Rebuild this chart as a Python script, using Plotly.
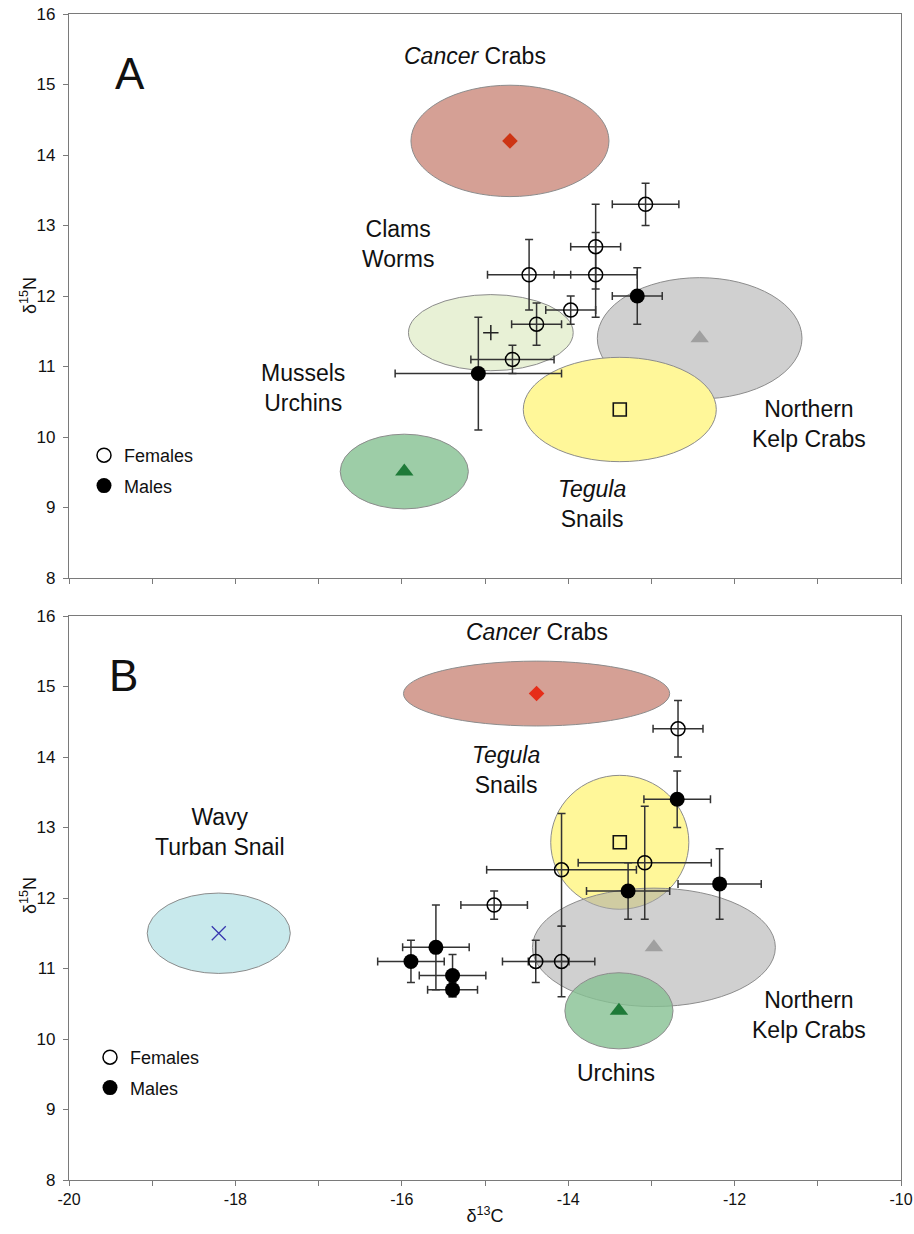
import plotly.graph_objects as go

# ---------------- data ----------------
# Panel A: crab isotope means (± SD), by sex
fa_x = [-13.07, -13.67, -13.67, -14.47, -13.97, -14.38, -14.67]
fa_y = [13.3, 12.7, 12.3, 12.3, 11.8, 11.6, 11.1]
fa_xerr = [0.4, 0.3, 0.5, 0.5, 0.3, 0.3, 0.5]
fa_yerr = [0.3, 0.6, 0.6, 0.5, 0.2, 0.3, 0.2]

ma_x = [-13.17, -15.08]
ma_y = [12.0, 10.9]
ma_xerr = [0.3, 1.0]
ma_yerr = [0.4, 0.8]

# Panel B
fb_x = [-12.68, -13.08, -14.08, -14.08, -14.39, -14.89]
fb_y = [14.4, 12.5, 12.4, 11.1, 11.1, 11.9]
fb_xerr = [0.3, 0.8, 0.9, 0.4, 0.4, 0.4]
fb_yerr = [0.4, 0.8, 0.8, 0.5, 0.3, 0.2]

mb_x = [-12.69, -13.28, -12.18, -15.59, -15.89, -15.39, -15.39]
mb_y = [13.4, 12.1, 12.2, 11.3, 11.1, 10.9, 10.7]
mb_xerr = [0.4, 0.5, 0.5, 0.4, 0.4, 0.4, 0.3]
mb_yerr = [0.4, 0.4, 0.5, 0.6, 0.3, 0.3, 0.1]

# Prey sources: mean and SD (SD drawn as ellipse)
prey_a = ["Cancer crabs", "Clams/worms", "Northern kelp crabs", "Tegula snails", "Mussels/urchins"]
prey_a_x = [-14.70, -14.93, -12.42, -13.38, -15.97]
prey_a_y = [14.20, 11.48, 11.40, 10.39, 9.51]
prey_a_sdx = [1.19, 0.99, 1.23, 1.16, 0.77]
prey_a_sdy = [0.79, 0.54, 0.86, 0.74, 0.53]

prey_b = ["Cancer crabs", "Wavy turban snail", "Tegula snails", "Northern kelp crabs", "Urchins"]
prey_b_x = [-14.38, -18.20, -13.38, -12.97, -13.39]
prey_b_y = [14.90, 11.50, 12.79, 11.30, 10.40]
prey_b_sdx = [1.60, 0.86, 0.83, 1.46, 0.65]
prey_b_sdy = [0.46, 0.57, 0.95, 0.84, 0.54]

x_ticks = [-20, -18, -16, -14, -12, -10]
x_ticktext = ["-20", "-18", "-16", "-14", "-12", "-10"]
y_ticks = list(range(8, 17))

# ---------------- styles ----------------
FONT = "Liberation Sans, Arial, Helvetica, sans-serif"
AXIS_COLOR = "#7a7a7a"
ERR_COLOR = "#333333"
OUTLINE = "rgb(140,140,140)"

fill_a = ["rgb(213,160,149)", "rgb(232,241,214)", "rgba(170,170,170,0.55)",
          "rgb(255,247,153)", "rgb(157,205,167)"]
fill_b = ["rgb(213,160,149)", "rgb(200,233,236)", "rgb(255,247,153)",
          "rgba(170,170,170,0.55)", "rgba(134,193,146,0.8)"]

mark_a = [dict(symbol="diamond", size=12, color="rgb(205,52,20)"),
          dict(symbol="cross-thin-open", size=11, color="#222", line=dict(width=1.5, color="#222")),
          dict(symbol="triangle-up", size=16, color="rgb(160,160,160)"),
          dict(symbol="square-open", size=13, color="#111", line=dict(width=1.6, color="#111")),
          dict(symbol="triangle-up", size=16, color="rgb(30,122,56)")]
mark_b = [dict(symbol="diamond", size=12, color="rgb(230,45,25)"),
          dict(symbol="x-thin-open", size=14, color="rgb(55,55,175)", line=dict(width=1.3, color="rgb(55,55,175)")),
          dict(symbol="square-open", size=13, color="#111", line=dict(width=1.6, color="#111")),
          dict(symbol="triangle-up", size=16, color="rgb(160,160,160)"),
          dict(symbol="triangle-up", size=16, color="rgb(30,122,56)")]

fig = go.Figure()
shapes = []


def add_prey(names, mx, my, sdx, sdy, fills, marks, xref, yref):
    for i in range(len(names)):
        shapes.append(dict(type="circle", xref=xref, yref=yref,
                           x0=mx[i] - sdx[i], x1=mx[i] + sdx[i],
                           y0=my[i] - sdy[i], y1=my[i] + sdy[i],
                           fillcolor=fills[i], line=dict(color=OUTLINE, width=1),
                           layer="below"))
        fig.add_trace(go.Scatter(x=[mx[i]], y=[my[i]], mode="markers", name=names[i],
                                 marker=marks[i], showlegend=False,
                                 xaxis=xref, yaxis=yref))


def add_crabs(x, y, ex, ey, name, filled, xaxis, yaxis, legend, group):
    marker = (dict(symbol="circle", size=15, color="black")
              if filled else
              dict(symbol="circle-open", size=14, color="black", line=dict(width=1.5, color="black")))
    fig.add_trace(go.Scatter(
        x=x, y=y, mode="markers", name=name, marker=marker,
        error_x=dict(type="data", array=ex, color=ERR_COLOR, thickness=1.5, width=4),
        error_y=dict(type="data", array=ey, color=ERR_COLOR, thickness=1.5, width=4),
        xaxis=xaxis, yaxis=yaxis, legend=legend, legendgroup=group))


add_prey(prey_a, prey_a_x, prey_a_y, prey_a_sdx, prey_a_sdy, fill_a, mark_a, "x", "y")
add_prey(prey_b, prey_b_x, prey_b_y, prey_b_sdx, prey_b_sdy, fill_b, mark_b, "x2", "y2")

add_crabs(fa_x, fa_y, fa_xerr, fa_yerr, "Females", False, "x", "y", "legend", "fa")
add_crabs(ma_x, ma_y, ma_xerr, ma_yerr, "Males", True, "x", "y", "legend", "ma")
add_crabs(fb_x, fb_y, fb_xerr, fb_yerr, "Females", False, "x2", "y2", "legend2", "fb")
add_crabs(mb_x, mb_y, mb_xerr, mb_yerr, "Males", True, "x2", "y2", "legend2", "mb")

W, H = 914, 1234
left, right = 69, 901
xdom = [left / W, right / W]
ydom_a = [1 - 578 / H, 1 - 14 / H]
ydom_b = [1 - 1180 / H, 1 - 616 / H]

axis_common = dict(showline=True, mirror=True, linecolor=AXIS_COLOR, linewidth=1.2,
                   ticks="outside", ticklen=5, tickcolor=AXIS_COLOR, tickwidth=1,
                   showgrid=False, zeroline=False, automargin=False,
                   ticklabeloverflow="allow",
                   tickfont=dict(family=FONT, size=17, color="#111"))

TITLE_FONT = dict(family=FONT, size=18, color="#111")
xa = dict(axis_common, domain=xdom, range=[-20, -10], tickvals=x_ticks,
          ticktext=x_ticktext, anchor="y",
          minor=dict(ticks="outside", ticklen=5, tickcolor=AXIS_COLOR, tickwidth=1,
                     dtick=1, tick0=-20, showgrid=False))
fig.update_layout(
    xaxis=dict(xa, showticklabels=False),
    xaxis2=dict(xa, anchor="y2", tickfont=dict(family=FONT, size=16, color="#111"),
                title=dict(text="δ<sup>13</sup>C", font=TITLE_FONT, standoff=2)),
    yaxis=dict(axis_common, domain=ydom_a, range=[8, 16], tickvals=y_ticks, anchor="x",
               ticklabelstandoff=4),
    yaxis2=dict(axis_common, domain=ydom_b, range=[8, 16], tickvals=y_ticks, anchor="x2",
                ticklabelstandoff=4),
)

legend_common = dict(font=dict(family=FONT, size=18, color="#111"), bgcolor="rgba(0,0,0,0)",
                     xanchor="left", yanchor="top", traceorder="grouped",
                     tracegroupgap=4, itemclick=False, itemdoubleclick=False)
fig.update_layout(
    legend=dict(legend_common, x=84 / W, y=1 - 437 / H),
    legend2=dict(legend_common, x=90 / W, y=1 - 1039 / H),
)

LABEL = dict(family=FONT, size=23, color="#111")
labels = [
    ("x", "y", -15.12, 15.40, "<i>Cancer</i> Crabs"),
    ("x", "y", -16.04, 12.74, "Clams<br>Worms"),
    ("x", "y", -17.19, 10.70, "Mussels<br>Urchins"),
    ("x", "y", -11.10, 10.18, "Northern<br>Kelp Crabs"),
    ("x", "y", -13.72, 9.05, "<i>Tegula</i><br>Snails"),
    ("x2", "y2", -14.37, 15.77, "<i>Cancer</i> Crabs"),
    ("x2", "y2", -14.75, 13.82, "<i>Tegula</i><br>Snails"),
    ("x2", "y2", -18.19, 12.94, "Wavy<br>Turban Snail"),
    ("x2", "y2", -11.10, 10.34, "Northern<br>Kelp Crabs"),
    ("x2", "y2", -13.42, 9.52, "Urchins"),
]
annotations = [dict(xref=xr, yref=yr, x=x, y=y, text=t, showarrow=False,
                    font=LABEL, xanchor="center", yanchor="middle", align="center")
               for xr, yr, x, y, t in labels]
annotations += [
    dict(xref="x", yref="y", x=-19.27, y=15.16, text="A", showarrow=False,
         font=dict(family=FONT, size=44, color="#111"), xanchor="center", yanchor="middle"),
    dict(xref="x2", yref="y2", x=-19.34, y=15.16, text="B", showarrow=False,
         font=dict(family=FONT, size=44, color="#111"), xanchor="center", yanchor="middle"),
]
# vertical axis titles for both panels
for yc in (296, 896):
    annotations.append(dict(xref="paper", yref="paper", x=28 / W, y=1 - yc / H,
                            text="δ<sup>15</sup>N", textangle=-90, showarrow=False,
                            font=TITLE_FONT, xanchor="center", yanchor="middle"))

fig.update_layout(
    width=W, height=H, autosize=False,
    margin=dict(l=0, r=0, t=0, b=0),
    paper_bgcolor="white", plot_bgcolor="white",
    shapes=shapes, annotations=annotations,
    font=dict(family=FONT, color="#111"),
)

fig.write_html("out.html")
